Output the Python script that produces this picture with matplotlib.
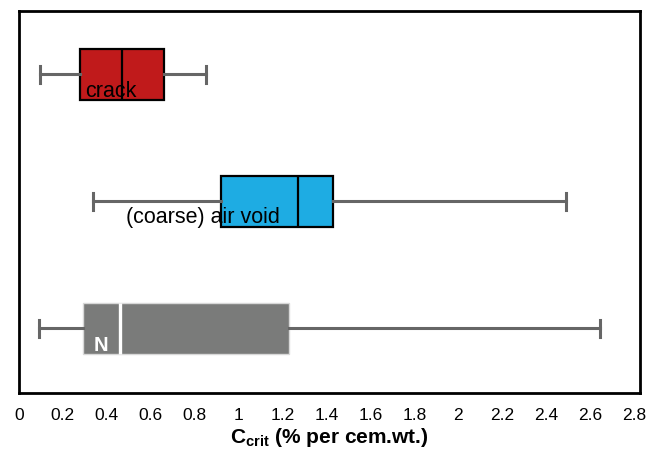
import matplotlib.pyplot as plt

plt.rcParams['font.family'] = ['Liberation Sans', 'DejaVu Sans']
plt.rcParams['mathtext.fontset'] = 'custom'
plt.rcParams['mathtext.bf'] = 'Liberation Sans:bold'
plt.rcParams['mathtext.rm'] = 'Liberation Sans'

# box statistics (whisker low, q1, median, q3, whisker high)
labels = ["N", "(coarse) air void", "crack"]
whislo = [0.09, 0.335, 0.095]
q1 = [0.29, 0.92, 0.28]
med = [0.46, 1.27, 0.47]
q3 = [1.23, 1.43, 0.66]
whishi = [2.645, 2.49, 0.85]
fills = ["#7a7b7a", "#1eace3", "#c01a1b"]
positions = [1, 2, 3]

stats = []
for i in range(len(labels)):
    stats.append(dict(whislo=whislo[i], q1=q1[i], med=med[i], q3=q3[i],
                      whishi=whishi[i], fliers=[], label=labels[i]))

fig = plt.figure(figsize=(6.54, 4.51), dpi=100)
ax = fig.add_axes([0.029, 0.1286, 0.9497, 0.847])

art = ax.bxp(stats, positions=positions, vert=False, patch_artist=True,
             widths=0.4, showfliers=False,
             whiskerprops=dict(color="#666666", linewidth=2.2),
             capprops=dict(color="#666666", linewidth=2.2),
             boxprops=dict(edgecolor="black", linewidth=1.6),
             medianprops=dict(color="black", linewidth=1.6),
             capwidths=0.13)

for i, b in enumerate(art['boxes']):
    b.set_facecolor(fills[i])
    b.set_zorder(2)
art['boxes'][0].set_edgecolor("#d8d8d8")
art['boxes'][0].set_linewidth(1.0)
art['medians'][0].set_color("white")
art['medians'][0].set_linewidth(2.4)
for m in art['medians']:
    m.set_zorder(4)

# group labels, drawn under the median lines like in the original
ax.text(0.30, 2.822, "crack", fontsize=15.5, color="black",
        ha="left", va="baseline", zorder=3)
ax.text(0.486, 1.829, "(coarse) air void", fontsize=15.5, color="black",
        ha="left", va="baseline", zorder=3)
ax.text(0.375, 0.821, "N", fontsize=14.5, color="white", fontweight="bold",
        ha="center", va="baseline", zorder=3)

ax.set_xlim(0, 2.827)
ax.set_ylim(0.49, 3.5)
ax.set_xticks([0, 0.2, 0.4, 0.6, 0.8, 1, 1.2, 1.4, 1.6, 1.8, 2, 2.2, 2.4, 2.6, 2.8])
ax.set_xticklabels(["0", "0.2", "0.4", "0.6", "0.8", "1", "1.2", "1.4", "1.6",
                    "1.8", "2", "2.2", "2.4", "2.6", "2.8"], fontsize=12.5)
ax.set_yticks([])
ax.tick_params(axis="x", length=0, pad=11)
for s in ax.spines.values():
    s.set_linewidth(2.0)
    s.set_color("black")

ax.set_xlabel(r"C$_{\mathbf{crit}}$ (% per cem.wt.)", fontsize=15,
              fontweight="bold", labelpad=2)

fig.savefig("out.png", dpi=100)
